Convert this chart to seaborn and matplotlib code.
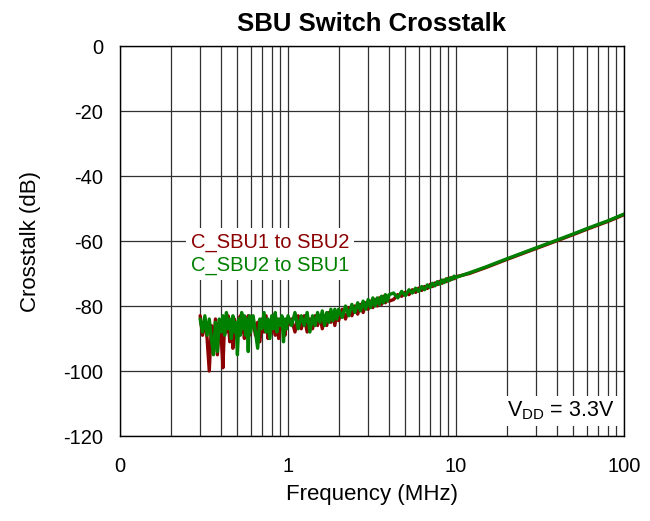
import matplotlib
matplotlib.use("Agg")
import matplotlib.pyplot as plt
from matplotlib.ticker import LogLocator, NullFormatter
import seaborn as sns
import pandas as pd

# frequencies in MHz
freq = [0.30, 0.31, 0.32, 0.33, 0.34, 0.35, 0.36, 0.37, 0.38, 0.39, 0.40,
        0.41, 0.42, 0.43, 0.44, 0.45, 0.46, 0.47, 0.48, 0.49, 0.50,
        0.51, 0.52, 0.53, 0.54, 0.55, 0.56, 0.57, 0.58, 0.59, 0.60,
        0.62, 0.64, 0.66, 0.68, 0.70, 0.72, 0.74, 0.76, 0.78, 0.80,
        0.82, 0.84, 0.86, 0.88, 0.90, 0.92, 0.94, 0.96, 0.98, 1.00,
        1.05, 1.10, 1.15, 1.20, 1.25, 1.30, 1.35, 1.40, 1.45, 1.50,
        1.55, 1.60, 1.65, 1.70, 1.75, 1.80, 1.85, 1.90, 1.95, 2.00,
        2.1, 2.2, 2.3, 2.4, 2.5, 2.6, 2.7, 2.8, 2.9, 3.0,
        3.1, 3.2, 3.3, 3.4, 3.5, 3.6, 3.7, 3.8, 3.9, 4.0,
        4.25, 4.5, 4.75, 5.0, 5.25, 5.5, 5.75, 6.0, 6.25, 6.5, 6.75, 7.0,
        7.25, 7.5, 7.75, 8.0, 8.25, 8.5, 8.75, 9.0, 9.25, 9.5, 9.75, 10.0,
        12, 15, 20, 30, 40, 50, 60, 70, 80, 90, 100]

sbu1_to_sbu2 = [-83, -89, -84, -90, -100, -86, -93, -84, -95, -85, -89,
                -99, -84, -88, -83, -91, -85, -93, -84, -88, -85,
                -89, -83, -88, -84, -90, -85, -88, -83, -89, -85,
                -84, -89, -85, -91, -84, -88, -83, -90, -85, -88,
                -83, -89, -84, -90, -84, -87, -85, -89, -84, -86,
                -84, -88, -83, -87, -83, -88, -84, -87, -83, -86,
                -83, -87, -83, -86, -82, -85, -82, -86, -82, -84.5,
                -81, -84, -80.5, -83, -80, -82.5, -79.5, -82, -79, -81,
                -78.5, -80.5, -78, -80, -77.5, -79.5, -77, -79, -77, -78.5,
                -78, -76.5, -77, -75.8, -76.5, -75, -75.8, -74.5, -75.2, -74, -74.6, -73.4,
                -74, -72.9, -73.4, -72.4, -73, -72, -72.5, -71.5, -72, -71.2, -71.6, -71,
                -70.0, -68.2, -65.7, -62.3, -59.9, -58.0, -56.4, -55.1, -54.0, -52.9, -51.9]

sbu2_to_sbu1 = [-84, -88, -83, -89, -84, -90, -95, -85, -94, -84, -88,
                -83, -89, -82, -87, -84, -90, -83, -88, -85, -95,
                -84, -89, -82, -87, -83, -89, -84, -94, -83, -88,
                -83, -88, -93, -84, -87, -82, -88, -84, -90, -83,
                -87, -82, -88, -84, -86, -83, -91, -84, -87, -83,
                -86, -82, -87, -83, -86, -82, -88, -83, -86, -82,
                -85, -81.5, -86, -82, -85, -81, -84.5, -81, -84, -81,
                -83.5, -80, -83, -79.5, -82, -79, -81.5, -78.5, -81, -78,
                -80.5, -77.5, -80, -77.5, -79.5, -77, -79, -76.5, -78.5, -76.5,
                -76, -77.5, -75.5, -76.8, -75, -76, -74.5, -75.5, -74, -75, -73.5, -74.3,
                -73, -73.8, -72.5, -73.3, -72, -72.8, -71.6, -72.3, -71.3, -71.8, -70.8, -71.2,
                -69.8, -68.0, -65.5, -62.1, -59.7, -57.8, -56.2, -54.9, -53.8, -52.7, -51.7]

series_names = ["C_SBU1 to SBU2", "C_SBU2 to SBU1"]
x_ticks = [0.1, 1, 10, 100]
x_tick_labels = ["0", "1", "10", "100"]
y_ticks = [0, -20, -40, -60, -80, -100, -120]

df = pd.concat([
    pd.DataFrame({"Frequency": freq, "Crosstalk": sbu1_to_sbu2, "Series": series_names[0]}),
    pd.DataFrame({"Frequency": freq, "Crosstalk": sbu2_to_sbu1, "Series": series_names[1]}),
])

sns.set_style("white")
plt.rcParams["font.family"] = ["Liberation Sans", "DejaVu Sans"]
plt.rcParams["axes.unicode_minus"] = False
plt.rcParams["text.color"] = "black"
plt.rcParams["axes.labelcolor"] = "black"

fig = plt.figure(figsize=(6.5, 5.21), dpi=100)
ax = fig.add_axes([0.1846, 0.1631, 0.7754, 0.7486])

palette = {series_names[0]: "#8b0000", series_names[1]: "#008000"}
sns.lineplot(data=df, x="Frequency", y="Crosstalk", hue="Series", palette=palette,
             estimator=None, linewidth=2.4, ax=ax)

ax.set_xscale("log")
ax.set_xlim(0.1, 100)
ax.set_ylim(-120, 0)
ax.set_xticks(x_ticks)
ax.set_xticklabels(x_tick_labels)
ax.xaxis.set_minor_locator(LogLocator(base=10, subs=range(2, 10)))
ax.xaxis.set_minor_formatter(NullFormatter())
ax.set_yticks(y_ticks)

ax.grid(True, which="both", axis="x", color="#303030", linewidth=0.9)
ax.grid(True, which="major", axis="y", color="#303030", linewidth=0.9)
ax.tick_params(which="both", length=0, labelsize=14.5, colors="black")
ax.tick_params(axis="x", pad=15)
ax.tick_params(axis="y", pad=12)
for s in ax.spines.values():
    s.set_color("black")
    s.set_linewidth(1)

ax.set_xlabel("Frequency (MHz)", fontsize=16, labelpad=6)
ax.set_ylabel("Crosstalk (dB)", fontsize=16, labelpad=16)
ax.set_title("SBU Switch Crosstalk", fontsize=18.5, fontweight="bold", pad=11)

leg = ax.legend(loc="upper left", bbox_to_anchor=(0.11, 0.56), handlelength=0,
                handletextpad=0, labelcolor="linecolor", fontsize=14.5,
                frameon=True, framealpha=1, edgecolor="none", fancybox=False,
                borderpad=0.25, labelspacing=0.2)
for h in leg.legend_handles:
    h.set_visible(False)

ax.text(0.982, 0.035, r"V$_{\mathregular{DD}}$ = 3.3V", transform=ax.transAxes,
        ha="right", va="bottom", fontsize=15.5,
        bbox=dict(facecolor="white", edgecolor="none", pad=3))

fig.savefig("out.png", dpi=100)
